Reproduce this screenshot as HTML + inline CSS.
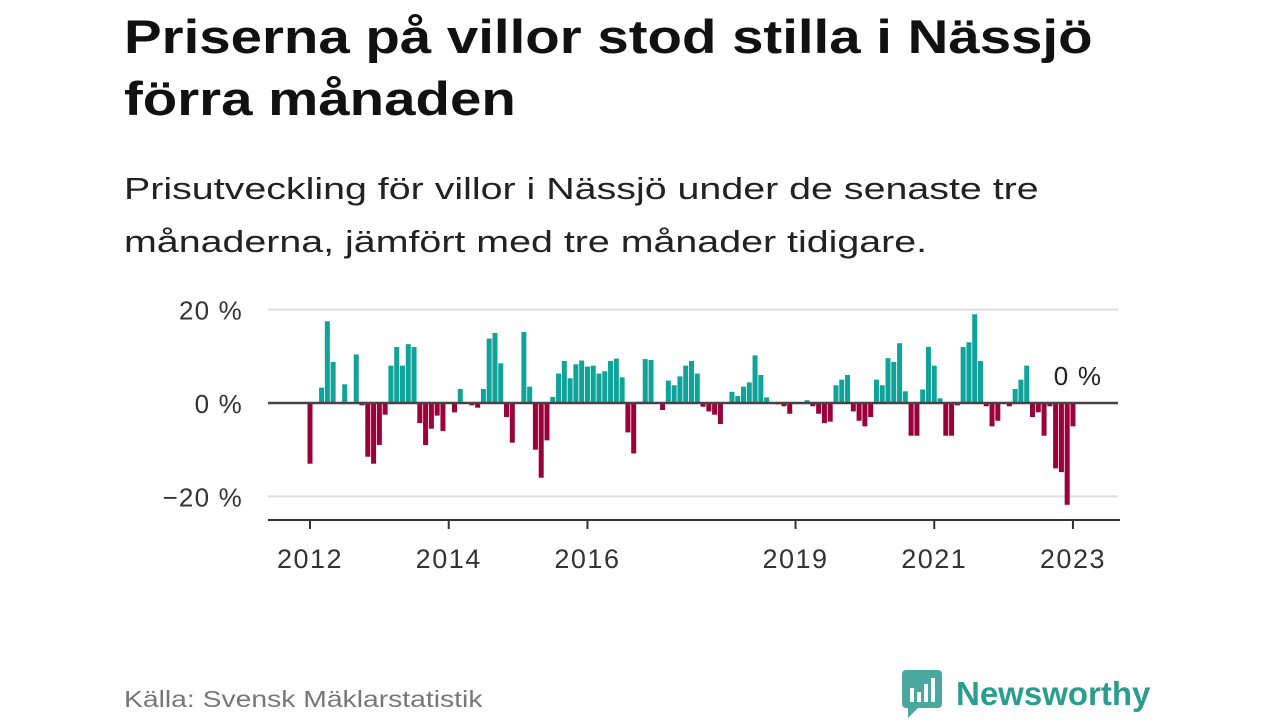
<!DOCTYPE html>
<html><head><meta charset="utf-8">
<style>
body{margin:0;width:1280px;height:720px;background:#fff;font-family:"Liberation Sans",sans-serif;overflow:hidden;position:relative}
h1{position:absolute;left:124px;top:6px;margin:0;font-size:47px;line-height:62px;font-weight:bold;color:#111;transform:scaleX(1.2);transform-origin:left top;white-space:nowrap}
.sub{position:absolute;left:124px;top:162px;margin:0;font-size:31px;line-height:53px;color:#222;transform:scaleX(1.27);transform-origin:left top;white-space:nowrap}
.src{position:absolute;left:124px;top:686px;font-size:23px;color:#777;transform:scaleX(1.23);transform-origin:left top;white-space:nowrap}
.logo{position:absolute;left:902px;top:670px;display:flex;align-items:center;gap:14px;color:#2a9d8f;font-size:33px;font-weight:bold}
</style></head><body>
<h1>Priserna på villor stod stilla i Nässjö<br>förra månaden</h1>
<p class="sub">Prisutveckling för villor i Nässjö under de senaste tre<br>månaderna, jämfört med tre månader tidigare.</p>
<svg id="chart" width="1280" height="720" style="position:absolute;left:0;top:0" xmlns="http://www.w3.org/2000/svg"></svg>
<div class="src">Källa: Svensk Mäklarstatistik</div>
<div class="logo">
<svg width="40" height="48" viewBox="0 0 40 48"><rect x="0" y="0" width="40" height="38" rx="4" fill="#4aa89c"/><polygon points="6,38 16,38 6,48" fill="#4aa89c"/><rect x="8" y="18" width="4" height="14" fill="#fff"/><rect x="15" y="22" width="4" height="10" fill="#fff"/><rect x="22" y="14" width="4" height="18" fill="#fff"/><rect x="29" y="8" width="4" height="24" fill="#fff"/></svg>
<span>Newsworthy</span></div>
<script>
const values = [-13,0,3.3,17.5,8.8,0,4,0,10.4,-0.5,-11.5,-13,-9,-2.5,8,12,8,12.6,12,-4.3,-9,-5.5,-2.7,-6,0,-2,3,0,-0.5,-1,3,13.8,15,8.5,-3,-8.5,
0,15.2,3.5,-10,-16,-8,1.3,6.3,9,5.3,8.3,9.1,7.8,8,6.3,6.8,9,9.5,5.5,-6.3,-10.8,0.3,9.4,9.2,0,-1.5,4.8,3.8,5.7,8,9,6.3,-0.8,-1.8,-2.5,-4.5,
0,2.4,1.5,3.5,4.4,10.2,6,1.2,0,-0.3,-0.7,-2.3,0,0,0.6,-0.7,-2.3,-4.3,-4,3.8,5,6,-1.8,-3.8,-5,-3,5,3.8,9.6,8.8,12.8,2.5,-7,-7,
2.9,12,8,1,-7,-7,-0.5,12,13,19,9,-0.7,-5,-3.8,0,-0.7,3,5,8,-3,-2,-7,-0.7,-14,-14.8,-21.8,-5];
const startYear = 2012;
const xTickYears = [2012,2014,2016,2019,2021,2023];
const yTicks = [20,0,-20];
const lastLabel = "0 %";
const NS="http://www.w3.org/2000/svg";
const svg=document.getElementById('chart');
const x0=310, perMonth=5.78;
const xs=m=>x0+m*perMonth;
const ys=v=>403-v*4.67;
function el(t,a){const e=document.createElementNS(NS,t);for(const k in a)e.setAttribute(k,a[k]);svg.appendChild(e);return e;}
yTicks.forEach(v=>{
  if(v!==0){const g=el('line',{x1:268,x2:1118,y1:ys(v),y2:ys(v),stroke:'#ddd','stroke-width':2});
  
  }
  const t=el('text',{x:243,y:ys(v)+10,'text-anchor':'end','font-size':26,'letter-spacing':1.2,fill:'#333','font-family':'Liberation Sans, sans-serif'});
  t.textContent=(v<0?'\u2212'+(-v):v)+' %';
  
  
});
values.forEach((v,i)=>{
  const y=ys(Math.max(v,0)), h=Math.abs(ys(v)-ys(0));
  const r=el('rect',{x:xs(i)-2.5,y:y,width:5,height:Math.max(h,0.01),fill:v>=0?'#0fa39a':'#9b0039'});
  
  
});
const z=el('line',{x1:268,x2:1118,y1:ys(0),y2:ys(0),stroke:'#444','stroke-width':2.5});


const ax=el('line',{x1:268,x2:1120,y1:520,y2:520,stroke:'#333','stroke-width':2});


xTickYears.forEach(yr=>{
  const x=xs((yr-startYear)*12);
  const tk=el('line',{x1:x,x2:x,y1:520,y2:529,stroke:'#333','stroke-width':2});
  
  
  const t=el('text',{x:x,y:568,'text-anchor':'middle','font-size':27,'letter-spacing':1.5,fill:'#333','font-family':'Liberation Sans, sans-serif'});
  t.textContent=yr;
  
  
});
const lb=el('text',{x:1078,y:385,'text-anchor':'middle','font-size':26,'letter-spacing':1.2,fill:'#222','font-family':'Liberation Sans, sans-serif'});
lb.textContent=lastLabel;


</script>
</body></html>
